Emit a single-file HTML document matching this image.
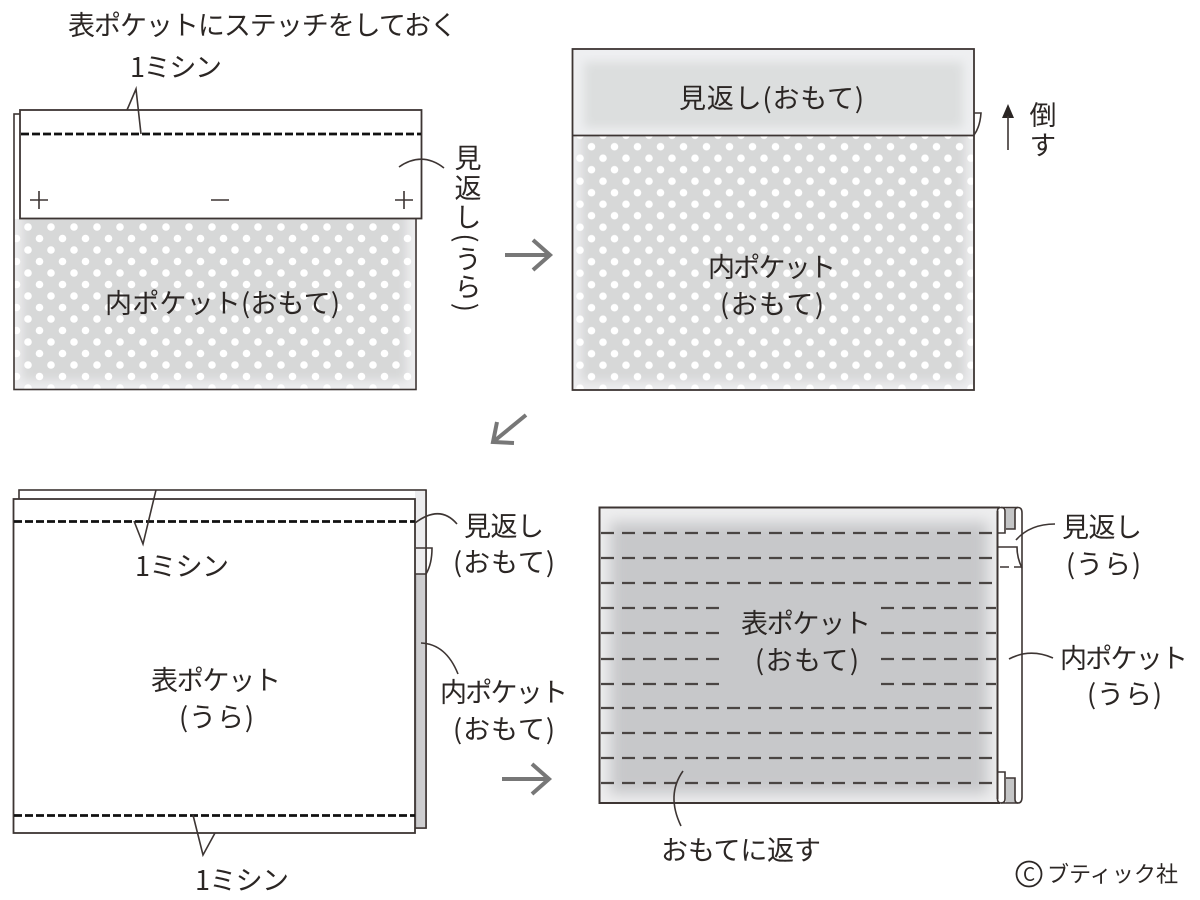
<!DOCTYPE html>
<html lang="ja">
<head>
<meta charset="utf-8">
<style>
html,body{margin:0;padding:0;background:#fff}
svg{display:block}
text{font-family:"Noto Sans CJK JP","Liberation Sans",sans-serif;fill:#2b2624;font-size:27px;font-weight:400}
.v{font-feature-settings:"vpal"}
.l{fill:none;stroke:#3d3533;stroke-width:1.600}
.b{fill:none;stroke:#3d3533;stroke-width:2}
.ar{fill:none;stroke:#777;stroke-width:4}
</style>
</head>
<body>
<svg width="1200" height="900" viewBox="0 0 1200 900" xmlns="http://www.w3.org/2000/svg">
<defs>
<filter id="blur" x="-10%" y="-10%" width="120%" height="120%"><feGaussianBlur stdDeviation="5"/></filter>
<filter id="blur2" x="-10%" y="-10%" width="120%" height="120%"><feGaussianBlur stdDeviation="7"/></filter>
<linearGradient id="sh" x1="0" x2="1" y1="0" y2="0"><stop offset="0" stop-color="#9a9a9c"/><stop offset="0.2" stop-color="#cbcbcd"/><stop offset="1" stop-color="#d0d0d2"/></linearGradient>
<pattern id="d1" x="5" y="227" width="23" height="23" patternUnits="userSpaceOnUse">
<circle cx="0" cy="0" r="3.800" fill="#fff"/><circle cx="23" cy="0" r="3.800" fill="#fff"/><circle cx="0" cy="23" r="3.800" fill="#fff"/><circle cx="23" cy="23" r="3.800" fill="#fff"/><circle cx="11.500" cy="11.500" r="3.800" fill="#fff"/>
</pattern>
<pattern id="d2" x="16.500" y="146.700" width="23" height="23" patternUnits="userSpaceOnUse">
<circle cx="0" cy="0" r="3.800" fill="#fff"/><circle cx="23" cy="0" r="3.800" fill="#fff"/><circle cx="0" cy="23" r="3.800" fill="#fff"/><circle cx="23" cy="23" r="3.800" fill="#fff"/><circle cx="11.500" cy="11.500" r="3.800" fill="#fff"/>
</pattern>
<clipPath id="c1"><rect x="14" y="219" width="401" height="170"/></clipPath>
<clipPath id="c2"><rect x="573" y="136" width="401" height="254"/></clipPath>
<clipPath id="c3"><rect x="573" y="50" width="401" height="85"/></clipPath>
<clipPath id="c4"><rect x="600" y="508" width="397" height="295"/></clipPath>
</defs>
<rect width="1200" height="900" fill="#fff"/>

<!-- top left -->
<text x="68" y="35" textLength="389">表ポケットにステッチをしておく</text>
<text x="130" y="77" textLength="92">1ミシン</text>
<g clip-path="url(#c1)">
<rect x="14" y="219" width="401" height="170" fill="#eeeef0"/>
<rect x="22" y="205" width="385" height="176" fill="#d7d8d8" filter="url(#blur)"/>
<rect x="14" y="219" width="401" height="170" fill="url(#d1)"/>
</g>
<rect x="14" y="114" width="402" height="275.500" class="l"/>
<rect x="20" y="110" width="401.500" height="108.500" fill="#fff" stroke="#3d3533" stroke-width="1.800"/>
<line x1="21" y1="134" x2="421" y2="134" stroke="#111" stroke-width="2.800" stroke-dasharray="8 3"/>
<path class="l" d="M127 110L136 89L141 134"/>
<path class="l" d="M399 167Q422 151 444 168"/>
<path class="l" d="M30 200H48M39 191V209M211 200H229M395 200H413M404 191V209"/>
<text x="105" y="313" textLength="235">内ポケット(おもて)</text>
<text class="v" x="468" y="144" writing-mode="vertical-rl" textLength="168">見返し(うら)</text>

<path class="ar" d="M505 255H550M533 240L550 255L533 270"/>

<!-- top right -->
<g clip-path="url(#c3)">
<rect x="573" y="50" width="401" height="85" fill="#eeeff1"/>
<rect x="584" y="62" width="379" height="66" fill="#dcdede" filter="url(#blur)"/>
</g>
<g clip-path="url(#c2)">
<rect x="573" y="136" width="401" height="254" fill="#eeeef0"/>
<rect x="581" y="126" width="385" height="256" fill="#d7d8d8" filter="url(#blur)"/>
<rect x="573" y="136" width="401" height="254" fill="url(#d2)"/>
</g>
<rect x="572.500" y="49" width="401.500" height="341" fill="none" stroke="#3d3533" stroke-width="1.800"/>
<line x1="572" y1="135.500" x2="974" y2="135.500" stroke="#3d3533" stroke-width="1.800"/>
<path class="l" d="M974 113H981Q980 127 974 135"/>
<path d="M1008 104L1014 118H1002Z" fill="#2b2624"/>
<line x1="1008" y1="116" x2="1008" y2="150" stroke="#3d3533" stroke-width="1.600"/>
<text class="v" x="1043" y="101" writing-mode="vertical-rl" textLength="56">倒す</text>
<text x="679" y="108" textLength="185">見返し(おもて)</text>
<text x="708" y="277" textLength="128">内ポケット</text>
<text x="720" y="314" textLength="104">(おもて)</text>

<path class="ar" d="M526 415L493 442M497 422L493 442L514 443"/>

<!-- bottom left -->
<rect x="19" y="490" width="407" height="338" class="l" fill="#fff"/>
<rect x="415" y="491" width="10.500" height="83" fill="#ececee"/>
<path d="M415 574H426V828H415Z" fill="url(#sh)"/>
<path class="l" d="M426 490V828H415M415 574H426"/>
<rect x="13.500" y="499" width="401.500" height="334" fill="#fff" stroke="#3d3533" stroke-width="1.800"/>
<line x1="14" y1="521.500" x2="415" y2="521.500" stroke="#111" stroke-width="2.800" stroke-dasharray="8 3"/>
<line x1="14" y1="815.500" x2="415" y2="815.500" stroke="#111" stroke-width="2.800" stroke-dasharray="8 3"/>
<path class="l" d="M156 490L143 544L134 521"/>
<path class="l" d="M193 815L203 855L215 833"/>
<path class="l" d="M415 523Q440 504 457 524"/>
<path class="l" d="M416 548H432Q432 564 426 574"/>
<path class="l" d="M421 643Q446 644 458 674"/>
<text x="135" y="576" textLength="94">1ミシン</text>
<text x="195" y="890" textLength="94">1ミシン</text>
<text x="464" y="536" textLength="80">見返し</text>
<text x="453" y="572" textLength="102">(おもて)</text>
<text x="440" y="702" textLength="128">内ポケット</text>
<text x="453" y="739" textLength="102">(おもて)</text>
<text x="151" y="690" textLength="130">表ポケット</text>
<text x="179" y="727" textLength="75">(うら)</text>

<path class="ar" d="M502 779H549M532 764L549 779L532 794"/>

<!-- bottom right -->
<g clip-path="url(#c4)">
<rect x="600" y="508" width="397" height="295" fill="#eeeeef"/>
<rect x="610" y="522" width="378" height="272" fill="#c7c8ca" filter="url(#blur2)"/>
</g>
<rect x="1006" y="507" width="9" height="22" fill="#c4c5c6"/>
<rect x="1006" y="778" width="9" height="25" fill="#c4c5c6"/>
<path class="b" d="M1000 507.500H599.500V803H1000"/>
<path class="b" d="M997.500 511V799"/>
<path class="l" d="M997.500 511Q997.500 507.500 1001 507.500Q1005 507.500 1005 511V533H997"/>
<path class="l" d="M1006 529H1015V511Q1015 507.500 1018 507.500Q1022 507.500 1022 513V797Q1022 803 1018 803Q1015 803 1015 799V778H1006"/>
<path class="l" d="M997.500 799Q997.500 803 1001 803Q1005 803 1005 799V772H997"/>
<path class="l" d="M1001 803H1018M1001 507.500H1018"/>
<path class="l" d="M998 547H1017Q1017 558 1022 568"/>
<line x1="1000" y1="567" x2="1021" y2="567" stroke="#3d3533" stroke-width="1.500" stroke-dasharray="9 5"/>
<g stroke="#4a4543" stroke-width="2.200" stroke-dasharray="13 8">
<line x1="601" y1="533" x2="996" y2="533"/>
<line x1="601" y1="558" x2="996" y2="558"/>
<line x1="601" y1="583" x2="996" y2="583"/>
<line x1="601" y1="608" x2="720" y2="608"/>
<line x1="601" y1="633" x2="720" y2="633"/>
<line x1="601" y1="659" x2="720" y2="659"/>
<line x1="601" y1="684" x2="720" y2="684"/>
<line x1="881" y1="608" x2="996" y2="608"/>
<line x1="881" y1="633" x2="996" y2="633"/>
<line x1="881" y1="659" x2="996" y2="659"/>
<line x1="881" y1="684" x2="996" y2="684"/>
<line x1="601" y1="708" x2="996" y2="708"/>
<line x1="601" y1="733" x2="996" y2="733"/>
<line x1="601" y1="758" x2="996" y2="758"/>
<line x1="601" y1="783" x2="996" y2="783"/>
</g>
<path class="l" d="M1016 540Q1030 524 1055 524"/>
<path class="l" d="M1009 659Q1030 648 1053 658"/>
<path class="l" d="M683 771Q666 795 681 826"/>
<text x="741" y="633" textLength="130">表ポケット</text>
<text x="755" y="670" textLength="104">(おもて)</text>
<text x="1062" y="537" textLength="80">見返し</text>
<text x="1066" y="574" textLength="75">(うら)</text>
<text x="1060" y="668" textLength="128">内ポケット</text>
<text x="1087" y="704" textLength="75">(うら)</text>
<text x="661" y="860" textLength="160">おもてに返す</text>

<circle cx="1029" cy="874" r="12.500" fill="none" stroke="#2b2624" stroke-width="1.800"/>
<text x="1029" y="881" text-anchor="middle" style="font-size:19px">C</text>
<text x="1047" y="882" textLength="131" style="font-size:22px">ブティック社</text>
</svg>
</body>
</html>
